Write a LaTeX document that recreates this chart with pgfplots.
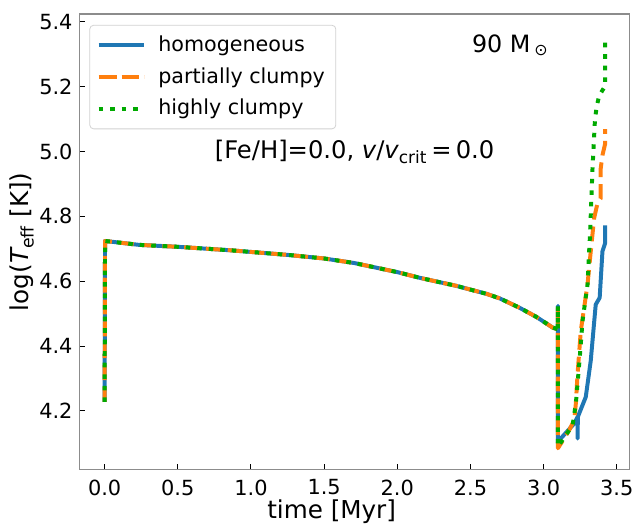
\documentclass[border=0pt]{standalone}
\usepackage{fontspec}
\setmainfont{DejaVu Sans}
\usepackage{pgfplots}
\pgfplotsset{compat=1.18}
\definecolor{mblue}{RGB}{31,119,180}
\definecolor{morange}{RGB}{255,127,14}
\definecolor{mgreen}{RGB}{0,170,0}
\definecolor{spine}{RGB}{140,140,140}
\begin{document}
\begin{tikzpicture}
\begin{axis}[
  width=277pt, height=229.5pt, scale only axis,
  xmin=-0.172, xmax=3.587, ymin=4.019, ymax=5.424,
  xtick={0,0.5,1,1.5,2,2.5,3,3.5},
  ytick={4.2,4.4,4.6,4.8,5.0,5.2,5.4},
  xtick pos=left, ytick pos=left,
  tick align=inside, major tick length=3pt,
  tick style={black, line width=0.5pt},
  axis line style={spine, line width=0.7pt},
  /pgf/number format/assume math mode=true,
  /pgf/number format/.cd, fixed, fixed zerofill, precision=1, /pgfplots/.cd,
  tick label style={font=\fontsize{10.5}{12}\selectfont},
  xticklabel style={yshift=-1.5pt},
  xlabel={time [Myr]},
  ylabel={log({\itshape T}\textsubscript{eff} [K])},
  label style={font=\fontsize{12.4}{14}\selectfont},
  xlabel style={at={(axis description cs:0.4585,-0.1065)}, anchor=base},
  ylabel style={at={(axis description cs:-0.1047,0.5)}, anchor=center, rotate=0},
  legend style={at={(axis description cs:0,1)}, anchor=north west, xshift=5pt, yshift=-5.5pt,
    draw=gray!35, rounded corners=2pt, fill=white, fill opacity=0.8, text opacity=1,
    font=\fontsize{10.4}{12}\selectfont, inner xsep=3.5pt, inner ysep=3.5pt, row sep=2.5pt,
    /tikz/every odd column/.append style={column sep=4pt}},
  legend cell align=left,
  legend image code/.code={\draw[#1] (0pt,0pt) -- (23pt,0pt);},
]
\addplot[mblue, line width=2pt, line join=round] coordinates {
(0.000,4.228) (0.003,4.724) (0.235,4.712) (0.5,4.706) (0.868,4.695) (1.253,4.681) (1.5,4.670)
(1.706,4.656) (2.0,4.628) (2.157,4.610) (2.4,4.586) (2.610,4.561) (2.7,4.547) (2.836,4.518)
(2.95,4.490) (3.062,4.457) (3.096,4.452) (3.098,4.524) (3.098,4.100) (3.107,4.110)
(3.209,4.161) (3.232,4.182) (3.232,4.115) (3.234,4.182) (3.288,4.243) (3.322,4.355)
(3.356,4.528) (3.383,4.549) (3.402,4.692) (3.420,4.717) (3.420,4.772)
};
\addlegendentry{homogeneous}
\addplot[morange, line width=2pt, line join=round, dash pattern=on 7.5pt off 3.5pt,
  legend image post style={dash pattern=on 9pt off 2.5pt}] coordinates {
(0.000,4.228) (0.003,4.724) (0.235,4.712) (0.5,4.706) (0.868,4.695) (1.253,4.681) (1.5,4.670)
(1.706,4.656) (2.0,4.628) (2.157,4.610) (2.4,4.586) (2.610,4.561) (2.7,4.547) (2.836,4.518)
(2.95,4.490) (3.062,4.457) (3.096,4.452) (3.098,4.524) (3.098,4.085) (3.175,4.141)
(3.209,4.172) (3.220,4.222) (3.232,4.314) (3.254,4.447) (3.300,4.590) (3.322,4.692)
(3.345,4.794) (3.368,4.840) (3.390,4.855) (3.390,4.947) (3.402,4.988) (3.420,5.023) (3.420,5.069)
};
\addlegendentry{partially clumpy}
\addplot[mgreen, line width=2pt, line join=round, dash pattern=on 2.3pt off 3.5pt] coordinates {
(0.000,4.228) (0.003,4.724) (0.235,4.712) (0.5,4.706) (0.868,4.695) (1.253,4.681) (1.5,4.670)
(1.706,4.656) (2.0,4.628) (2.157,4.610) (2.4,4.586) (2.610,4.561) (2.7,4.547) (2.836,4.518)
(2.95,4.490) (3.062,4.457) (3.096,4.452) (3.098,4.524) (3.098,4.090) (3.198,4.156)
(3.220,4.222) (3.247,4.365) (3.266,4.478) (3.300,4.590) (3.311,4.692) (3.317,4.743)
(3.334,4.947) (3.351,5.100) (3.363,5.139) (3.379,5.171) (3.420,5.202) (3.420,5.345)
};
\addlegendentry{highly clumpy}
\node[anchor=base west, inner sep=0pt, font=\fontsize{12}{14}\selectfont] at (axis cs:2.508,5.3065) {90 M\,\textsubscript{⊙}};
\node[anchor=base west, inner sep=0pt, font=\fontsize{12.2}{14}\selectfont] at (axis cs:0.751,4.9775) {[Fe/H]=0.0, {\itshape v}/{\itshape v}\textsubscript{crit}\,=\,0.0};
\end{axis}
\path ([shift={(-40pt,-27pt)}]current axis.south west) rectangle ([shift={(3pt,7pt)}]current axis.north east);
\end{tikzpicture}
\end{document}
